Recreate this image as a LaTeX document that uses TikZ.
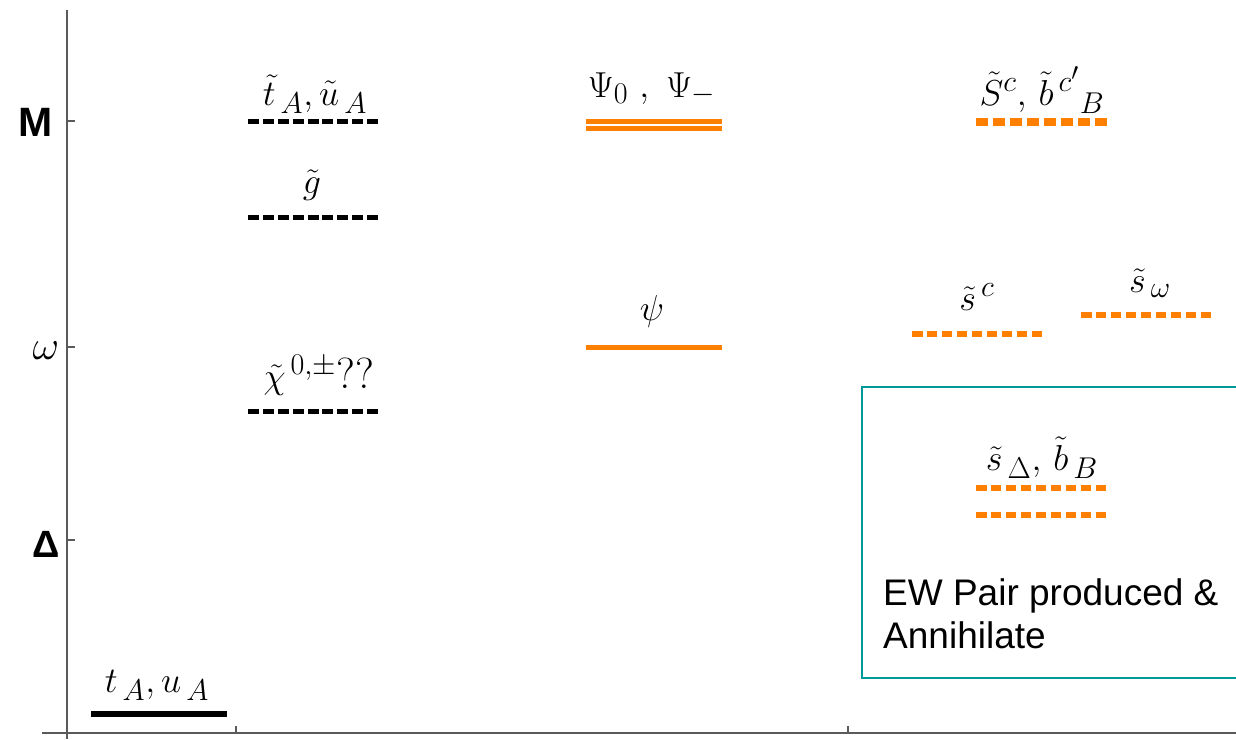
\documentclass[tikz,border=0pt]{standalone}
\usepackage{fontspec}
\setsansfont{Liberation Sans}
\newfontfamily\arialbold[BoldFont={Liberation Sans Bold}]{Liberation Sans}
\definecolor{lvlorange}{RGB}{255,128,0}
\definecolor{axisgrey}{RGB}{90,90,90}
\definecolor{boxteal}{RGB}{0,153,153}
\begin{document}
\begin{tikzpicture}[x=1pt,y=-1pt,
  axisline/.style={axisgrey,line width=2.5pt},
  tickline/.style={axisgrey,line width=1.5pt},
  blackdash/.style={black,line width=5pt,dash pattern=on 11pt off 3.875pt},
  orangedash/.style={lvlorange,line width=6pt,dash pattern=on 10.5pt off 4.44pt},
  orangebig/.style={lvlorange,line width=8.5pt,dash pattern=on 12pt off 5pt},
  orangesolid/.style={lvlorange,line width=5.5pt},
  blacksolid/.style={black,line width=6pt},
  lbl/.style={anchor=base,inner sep=0pt,scale=1.45,font=\fontsize{24.88}{30}\selectfont},
  axlbl/.style={anchor=base,inner sep=0pt},
  ewtext/.style={anchor=base west,inner sep=0pt,font=\sffamily\fontsize{37}{44}\selectfont}
]
\useasboundingbox[fill=white] (0,0) rectangle (1236,739);
% axes
\coordinate (yTop) at (67,10);
\coordinate (yBot) at (67,739);
\coordinate (xL) at (42,733);
\coordinate (xR) at (1236,733);
\draw[axisline] (yTop) -- (yBot);
\draw[axisline] (xL) -- (xR);
% y ticks
\coordinate (tM) at (67,121);
\coordinate (tW) at (67,347);
\coordinate (tD) at (67,540);
\foreach \c in {tM,tW,tD} \draw[tickline] (\c) -- ++(8,0);
% x ticks
\coordinate (tx1) at (236,733);
\coordinate (tx2) at (848,733);
\foreach \c in {tx1,tx2} \draw[tickline] (\c) -- ++(0,-7);
% axis labels
\node[axlbl,font=\arialbold\bfseries\fontsize{41}{45}\selectfont] (labM) at (36,136) {M};
\node[axlbl,scale=1.65,font=\fontsize{24.88}{30}\selectfont] (labW) at (46,359) {$\omega$};
\node[axlbl,font=\arialbold\bfseries\fontsize{38}{42}\selectfont] (labD) at (46,557) {Δ};
% black levels
\draw[blackdash] (248,121) -- (378,121);
\draw[blackdash] (248,217) -- (378,217);
\draw[blackdash] (248,411) -- (378,411);
\draw[blacksolid] (91,714) -- (227,714);
\node[lbl] (lTU) at (315,105) {$\tilde{t}_{\,A},\tilde{u}_{\,A}$};
\node[lbl] (lG) at (312,193) {$\tilde{g}$};
\node[lbl] (lChi) at (319,388) {$\tilde{\chi}^{\,0,\pm}${\fontsize{30}{36}\selectfont ??}};
\node[lbl] (lTUs) at (157,692) {$t_{\,A},u_{\,A}$};
% orange middle column
\draw[orangesolid,line width=4.5pt] (586,121.5) -- (722,121.5);
\draw[orangesolid,line width=4.5pt] (586,128.5) -- (722,128.5);
\draw[orangesolid] (586,347.5) -- (722,347.5);
\node[lbl] (lPsi) at (652,97) {$\Psi_{0}\ ,\ \Psi_{-}$};
\node[lbl] (lpsi) at (652,320) {$\psi$};
% orange right column
\draw[orangebig] (976,122) -- (1107,122);
\draw[orangedash] (912,334) -- (1042,334);
\draw[orangedash] (1081,315) -- (1211,315);
\draw[orangedash] (976,488) -- (1106,488);
\draw[orangedash] (976,515) -- (1106,515);
\node[lbl] (lSb) at (1042,105) {$\tilde{S}^{c},\,\tilde{b}^{\,c'}{}_{B}$};
\node[lbl] (lsc) at (977,310) {$\tilde{s}^{\,c}$};
\node[lbl] (lsw) at (1150,292) {$\tilde{s}_{\,\omega}$};
\node[lbl] (lsD) at (1042,470) {$\tilde{s}_{\,\Delta},\,\tilde{b}_{\,B}$};
% teal box
\draw[boxteal,line width=2pt] (1240,387) -- (862,387) -- (862,678) -- (1240,678);
\node[ewtext] (ew1) at (883,605) {EW Pair produced \&};
\node[ewtext] (ew2) at (883,648) {Annihilate};
\end{tikzpicture}
\end{document}
